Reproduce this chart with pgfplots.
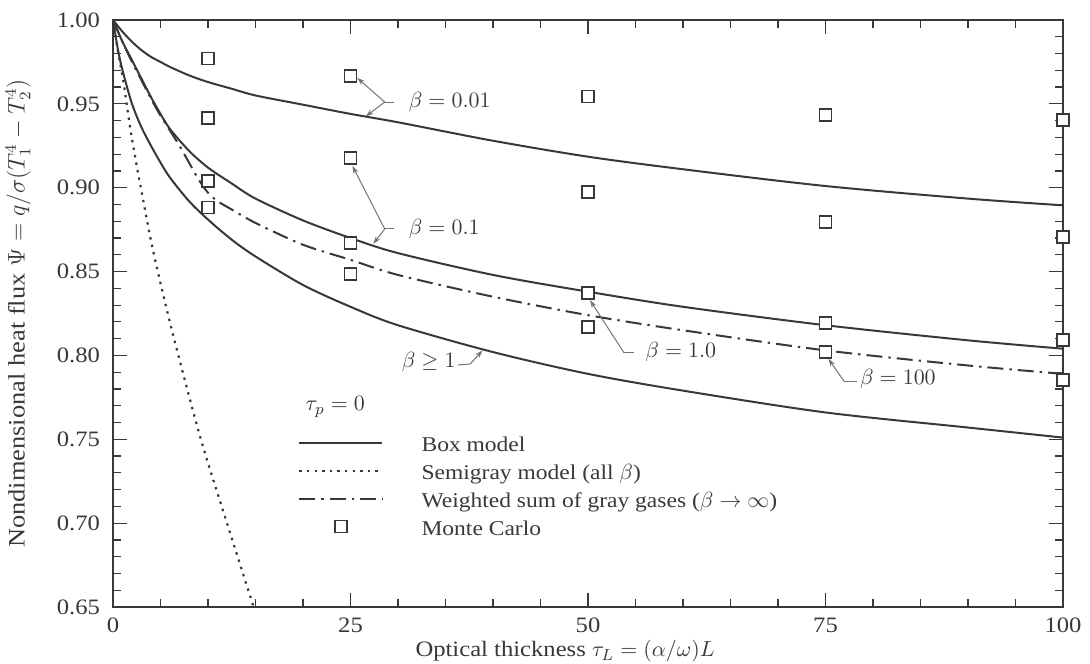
\documentclass[border=0pt]{standalone}
\usepackage{fontspec}
\setmainfont{Liberation Serif}[FakeStretch=1.12]
\usepackage{pgfplots}
\pgfplotsset{compat=1.18}
\usetikzlibrary{arrows.meta}

\definecolor{ink}{gray}{0.22}
\definecolor{lead}{gray}{0.45}

\tikzset{
  leader/.style={lead, line width=0.5pt},
  tip/.style={leader, -{Stealth[length=4pt,width=2.6pt]}},
  note/.style={inner sep=0pt, text=ink, font=\fontsize{10.5}{12}\selectfont},
}
\pgfplotsset{
  mc/.style={only marks, mark=square*, mark size=3.0pt,
    mark options={draw=ink, fill=white, line width=0.6pt}},
  mc image/.style={legend image code/.code={%
    \draw[mark repeat=2, mark phase=2, ##1] plot coordinates {(0pt,2pt) (20.75pt,2pt) (41.5pt,2pt)};
    \path (0pt,0pt) (59.5pt,0pt);}},
}

\begin{document}
\begin{tikzpicture}
\path[use as bounding box] (-56.5pt,-28pt) rectangle (488.5pt,303.5pt);
\begin{axis}[
  scale only axis, width=475pt, height=293.5pt,
  xmin=0, xmax=100, ymin=0.65, ymax=1.00,
  xtick={0,25,50,75,100},
  ytick={0.65,0.70,0.75,0.80,0.85,0.90,0.95,1.00},
  minor x tick num=4, minor y tick num=4,
  tick align=inside, major tick length=7pt, minor tick length=4pt,
  axis line style={ink, line width=0.8pt},
  every tick/.style={ink, line width=0.6pt},
  /pgf/number format/assume math mode=true,
  yticklabel style={/pgf/number format/.cd, fixed, fixed zerofill, precision=2, /tikz/.cd, xshift=-3pt},
  xticklabel style={yshift=-2pt},
  tick label style={font=\fontsize{11}{13}\selectfont, text=ink},
  xlabel={Optical thickness $\tau_L = (\alpha/\omega)L$},
  xlabel style={at={(axis description cs:0.318,0)}, anchor=north west, yshift=-16.5pt,
    inner sep=0pt, font=\fontsize{11}{13}\selectfont, text=ink},
  ylabel={Nondimensional heat flux $\Psi = q/\sigma(T_1^4 - T_2^4)$},
  ylabel style={at={(axis description cs:-0.1,0.5)}, anchor=center,
    font=\fontsize{11.8}{13}\selectfont, text=ink},
  clip=false,
  legend cell align=left,
  legend style={draw=none, fill=none, at={(axis cs:19.47,0.7530)}, anchor=north west,
    inner sep=0pt, row sep=2pt, font=\fontsize{10.5}{12}\selectfont, text=ink,
    nodes={inner sep=1pt, text height=7.5pt, text depth=2.5pt}},
  legend image code/.code={\draw[#1] (0pt,2pt) -- (41.5pt,2pt); \path (0pt,0pt) (59.5pt,0pt);},
]

% Box model, beta = 0.01
\addplot[ink, line width=1pt, smooth, forget plot] coordinates {
 (0,1.000) (1,0.993) (2,0.987) (3,0.982) (4,0.978) (5,0.975) (6,0.972) (8,0.967)
 (10,0.963) (12.5,0.959) (15,0.955) (20,0.9495) (25,0.944) (30,0.939) (40,0.928)
 (50,0.9185) (60,0.911) (75,0.901) (90,0.8935) (100,0.8895)};
% Box model, beta = 0.1
\addplot[ink, line width=1pt, smooth, forget plot] coordinates {
 (0,1.000) (1,0.987) (2,0.976) (3,0.965) (4,0.954) (5,0.944) (6,0.935) (8,0.922)
 (10,0.912) (12.5,0.9025) (15,0.8935) (20,0.8805) (25,0.870) (30,0.861) (40,0.848)
 (50,0.838) (60,0.829) (75,0.818) (90,0.809) (100,0.804)};
% Box model, beta >= 1
\addplot[ink, line width=1pt, smooth, forget plot] coordinates {
 (0,1.000) (0.5,0.983) (1,0.970) (2,0.950) (3,0.936) (4,0.925) (5,0.915) (6,0.906)
 (8,0.892) (10,0.881) (12.5,0.869) (15,0.859) (20,0.842) (25,0.829) (30,0.818)
 (40,0.802) (50,0.789) (60,0.779) (75,0.766) (90,0.757) (100,0.751)};
% Semigray model
\addplot[ink, line width=1.1pt, dash pattern=on 1.2pt off 2.6pt, smooth, forget plot] coordinates {
 (0,1.000) (0.5,0.982) (1.1,0.963) (1.8,0.936) (2.5,0.913) (3.0,0.898) (4.2,0.863)
 (6.2,0.815) (9.2,0.751) (12,0.700) (14.8,0.650)};
% Weighted sum of gray gases
\addplot[ink, line width=1pt, dash pattern=on 8pt off 3pt on 1.2pt off 3pt, smooth, forget plot] coordinates {
 (0,1.000) (1,0.987) (2,0.975) (3,0.964) (4,0.953) (5,0.943) (6,0.934) (7,0.925)
 (8,0.915) (9,0.905) (10,0.897) (11,0.892) (12.5,0.887) (15,0.879) (20,0.866)
 (25,0.857) (30,0.848) (40,0.835) (50,0.824) (60,0.815) (75,0.803) (90,0.794) (100,0.789)};

% Monte Carlo results
\addplot[mc, forget plot] coordinates {(10,0.977) (25,0.9666) (50,0.9545) (75,0.9434) (100,0.9404)};
\addplot[mc, forget plot] coordinates {(10,0.9416) (25,0.9177) (50,0.8975) (75,0.8796) (100,0.8706)};
\addplot[mc, forget plot] coordinates {(10,0.9040) (25,0.867) (50,0.8372) (75,0.8193) (100,0.8092)};
\addplot[mc, forget plot] coordinates {(10,0.888) (25,0.8486) (50,0.817) (75,0.802) (100,0.7853)};

% legend
\addlegendimage{ink, line width=1pt}
\addlegendentry{Box model}
\addlegendimage{ink, line width=1.1pt, dash pattern=on 1.2pt off 2.6pt}
\addlegendentry{Semigray model (all $\beta$)}
\addlegendimage{ink, line width=1pt, dash pattern=on 8pt off 3pt on 1.2pt off 3pt}
\addlegendentry{Weighted sum of gray gases ($\beta\rightarrow\infty$)}
\addlegendimage{mc, mc image}
\addlegendentry{Monte Carlo}

\node[note, font=\fontsize{11}{13}\selectfont] at (axis cs:23.4,0.7693) {$\tau_p = 0$};

% beta = 0.01
\node[note, anchor=west] at (axis cs:31.1,0.9511) {$\beta = 0.01$};
\draw[leader] (axis cs:29.6,0.9511) -- (axis cs:28.6,0.9511);
\draw[tip] (axis cs:28.6,0.9511) -- (axis cs:25.7,0.9655);
\draw[tip] (axis cs:28.6,0.9511) -- (axis cs:26.6,0.9425);
% beta = 0.1
\node[note, anchor=west] at (axis cs:31.1,0.8754) {$\beta = 0.1$};
\draw[leader] (axis cs:29.6,0.8754) -- (axis cs:28.6,0.8754);
\draw[tip] (axis cs:28.6,0.8754) -- (axis cs:25.2,0.9130);
\draw[tip] (axis cs:28.6,0.8754) -- (axis cs:27.4,0.8665);
% beta = 1.0
\node[note, anchor=west] at (axis cs:56.0,0.8020) {$\beta = 1.0$};
\draw[leader] (axis cs:54.8,0.8015) -- (axis cs:53.8,0.8015);
\draw[tip] (axis cs:53.8,0.8015) -- (axis cs:50.2,0.8330);
% beta = 100
\node[note, anchor=west] at (axis cs:78.6,0.7860) {$\beta = 100$};
\draw[leader] (axis cs:78.3,0.7842) -- (axis cs:77.0,0.7842);
\draw[tip] (axis cs:77.0,0.7842) -- (axis cs:75.3,0.7980);
% beta >= 1
\node[note, anchor=east] at (axis cs:36.1,0.7961) {$\beta \geq 1$};
\draw[tip] (axis cs:36.3,0.7943) -- (axis cs:37.6,0.7949) -- (axis cs:38.9,0.8030);

\end{axis}
\end{tikzpicture}
\end{document}
